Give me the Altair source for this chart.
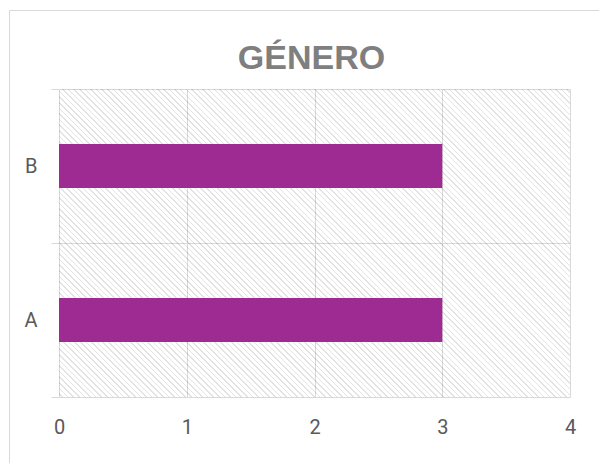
import altair as alt
import pandas as pd

# ---- data ----
categories = ["A", "B"]
values = [3, 3]
x_ticks = [0, 1, 2, 3, 4]
category_order = ["B", "A"]
title_text = "GÉNERO"

# ---- style ----
W, H = 511, 308
BAR = "#9D2B91"
GRID = "#d9d9d9"
LABEL = "#595959"

# diagonal hatch built as a striped linear gradient (lines running top-left -> bottom-right)
r = H / W
k = (1 + r) / (1 + r * r)
period_px = 5.6          # horizontal spacing of the hatch lines
line_px = 1.5            # thickness (in x-y units)
span = W + H
p = period_px / span
w = line_px / span
stops = []
clear = "rgba(255,255,255,0)"
shade = "rgba(0,0,0,0.11)"
t = p / 2
while t + w < 1:
    stops += [
        alt.GradientStop(color=clear, offset=round(t, 6)),
        alt.GradientStop(color=shade, offset=round(t, 6)),
        alt.GradientStop(color=shade, offset=round(t + w, 6)),
        alt.GradientStop(color=clear, offset=round(t + w, 6)),
    ]
    t += p
hatch = alt.LinearGradient(gradient="linear", stops=stops,
                           x1=0, y1=1, x2=k, y2=1 - k * r)

df = pd.DataFrame({"cat": categories, "val": values})
one = pd.DataFrame({"label": [title_text]})

bg = alt.Chart(one).mark_rect(fill=hatch).encode(
    x=alt.value(0), x2=alt.value(W), y=alt.value(0), y2=alt.value(H)
)

bars = alt.Chart(df).mark_bar(color=BAR, height=alt.RelativeBandSize(0.286)).encode(
    y=alt.Y("cat:N", sort=category_order,
            scale=alt.Scale(paddingInner=0, paddingOuter=0),
            axis=alt.Axis(title=None, domain=False, ticks=True, tickBand="extent",
                          tickSize=8, tickColor=GRID, grid=True, gridColor=GRID,
                          labelFontSize=20, labelColor=LABEL, labelFont="Roboto",
                          labelPadding=14, labelAngle=0)),
    x=alt.X("val:Q", scale=alt.Scale(domain=[0, 4], nice=False),
            axis=alt.Axis(title=None, values=x_ticks, domain=False, ticks=False,
                          tickSize=0, grid=True, gridColor=GRID, labelFlush=False,
                          labelFontSize=20, labelColor=LABEL, labelFont="Roboto",
                          labelPadding=20, format="d")),
)

title = alt.Chart(one).mark_text(
    font="Liberation Sans", fontSize=34, fontWeight="bold", color="#7f7f7f",
    align="center", baseline="alphabetic",
).encode(text="label:N", x=alt.value(W / 2 - 3), y=alt.value(-20))

border_left = alt.Chart(one).mark_rule(color=GRID, strokeWidth=1).encode(
    x=alt.value(-49.5), y=alt.value(-78.5), y2=alt.value(374)
)
border_top = alt.Chart(one).mark_rule(color=GRID, strokeWidth=1).encode(
    x=alt.value(-49.5), x2=alt.value(540), y=alt.value(-78.5)
)

chart = alt.layer(bg, bars, title, border_left, border_top).properties(
    width=W, height=H,
    padding={"left": 1, "top": 2, "right": 0, "bottom": 0},
).configure_view(stroke=None)

chart.save("out.html", embed_options={"renderer": "svg", "actions": False})
